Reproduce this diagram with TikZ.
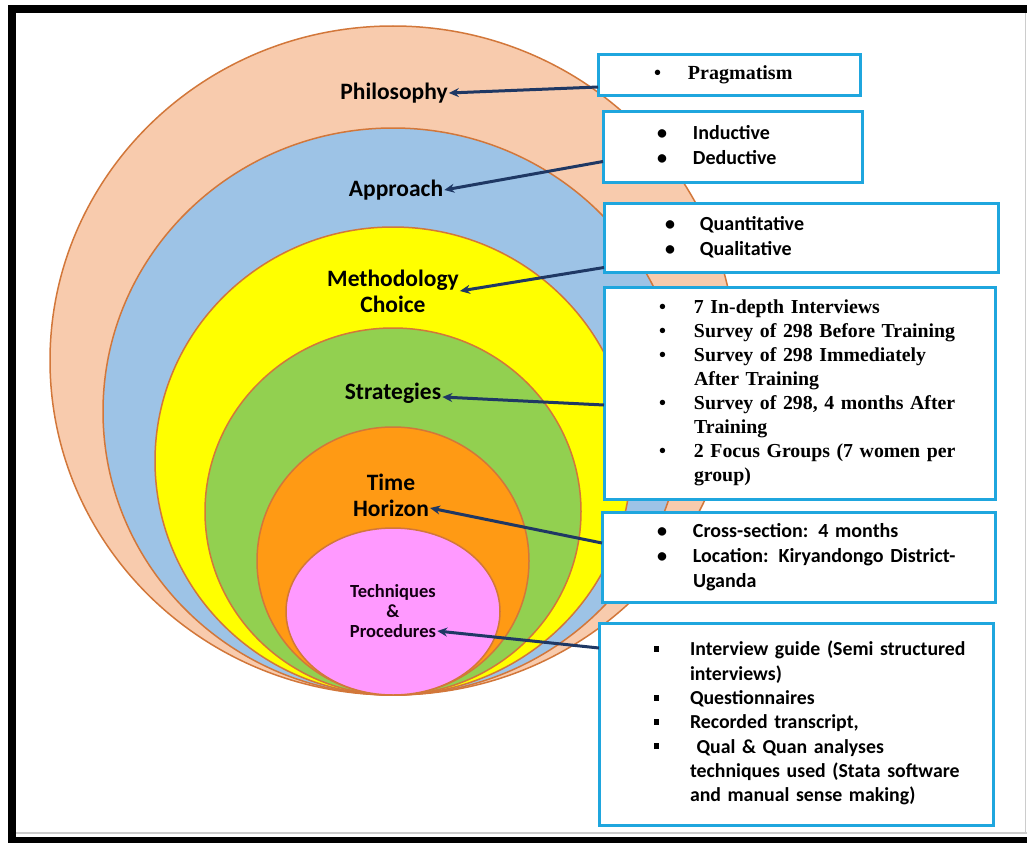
\documentclass[tikz,border=0pt]{standalone}
\usepackage{fontspec}
\setmainfont{Carlito}
\newfontfamily\tnr{Liberation Serif}
\usetikzlibrary{arrows.meta}

\definecolor{peach}{HTML}{F8CBAD}
\definecolor{skyb}{HTML}{9DC3E6}
\definecolor{yel}{HTML}{FFFF00}
\definecolor{grn}{HTML}{92D050}
\definecolor{orng}{HTML}{FF9A14}
\definecolor{pnk}{HTML}{FF99FF}
\definecolor{rim}{HTML}{D2773A}
\definecolor{boxb}{HTML}{1FA6DE}
\definecolor{navy}{HTML}{1F3864}

\newcommand{\blist}[3]{\begin{tabular}{@{\hspace{#1pt}}p{#2pt}@{}l@{}}#3\end{tabular}}
\newcommand{\sqb}{\rule[4pt]{5pt}{6pt}}

\tikzset{
    layer/.style={draw=rim, line width=1.5pt},
    lbl/.style={font=\fontsize{23.5}{26}\selectfont\bfseries, align=center, inner sep=1pt},
    infobox/.style={draw=boxb, line width=3pt, fill=white, anchor=north west,
        inner xsep=0pt, inner ysep=0pt, outer sep=0pt, align=left},
    pointer/.style={draw=navy, line width=3pt, -{Stealth[length=10pt,width=9pt]}},
}

\begin{document}
\begin{tikzpicture}[x=1pt, y=-1pt]
            \useasboundingbox (0,0) rectangle (1027,843);

            \draw[layer, fill=peach] (393,360.5) ellipse [x radius=343pt, y radius=334.5pt];
            \draw[layer, fill=skyb] (393,411.5) ellipse [x radius=290pt, y radius=283.5pt];
            \draw[layer, fill=yel] (393,461) ellipse [x radius=238pt, y radius=234pt];
            \draw[layer, fill=grn] (393,511.5) ellipse [x radius=188pt, y radius=183.5pt];
            \draw[layer, fill=orng] (393,561) ellipse [x radius=136pt, y radius=134pt];
            \draw[layer, fill=pnk] (393,611.5) ellipse [x radius=107pt, y radius=83.5pt];

            \node[lbl] (phil) at (394,93) {Philosophy};
            \node[lbl] (appr) at (396,190) {Approach};
            \node[lbl] (meth) at (393,291) {Methodology\\Choice};
            \node[lbl] (strat) at (393,393) {Strategies};
            \node[lbl] (hor) at (391,495) {Time\\Horizon};
            \node[lbl, font=\fontsize{18.5}{20}\selectfont\bfseries, text=black!85!violet] (tech) at (393,611) {Techniques\\\&\\Procedures};

            \node[infobox, minimum width=262pt, minimum height=40pt, text width=262pt,
                font=\tnr\fontsize{20}{24}\selectfont\bfseries] (b1) at (598,55)
                {\blist{56}{34}{\textbullet & Pragmatism}};
            \node[infobox, minimum width=259pt, minimum height=71pt, text width=259pt,
                font=\fontsize{20}{25}\selectfont\bfseries] (b2) at (603,111)
                {\blist{54}{36}{\textbullet & Inductive\\ \textbullet & Deductive}};
            \node[infobox, minimum width=394pt, minimum height=69pt, text width=394pt,
                font=\fontsize{20}{25}\selectfont\bfseries] (b3) at (604,203)
                {\blist{61}{35}{\textbullet & Quantitative\\ \textbullet & Qualitative}};
            \node[infobox, minimum width=391pt, minimum height=212pt, text width=391pt,
                font=\tnr\fontsize{19.8}{24}\selectfont\bfseries] (b4) at (604,287)
                {\blist{55}{35}{\textbullet & 7 In-depth Interviews\\
                    \textbullet & Survey of 298 Before Training\\
                    \textbullet & Survey of 298 Immediately\\ & After Training\\
                    \textbullet & Survey of 298, 4 months After\\ & Training\\
                    \textbullet & 2 Focus Groups (7 women per\\ & group)}};
            \node[infobox, minimum width=393pt, minimum height=90pt, text width=393pt,
                font=\fontsize{20}{25}\selectfont\bfseries] (b5) at (602,512)
                {\blist{55}{36}{\textbullet & Cross-section: 4 months\\
                    \textbullet & Location: Kiryandongo District-\\ & Uganda}};
            \node[infobox, minimum width=394pt, minimum height=202pt, text width=394pt,
                font=\fontsize{19.8}{24.3}\selectfont\bfseries] (b6) at (599,623)
                {\blist{55}{36}{\sqb & Interview guide (Semi structured\\ & interviews)\\
                    \sqb & Questionnaires\\
                    \sqb & Recorded transcript,\\
                    \sqb & \ Qual \& Quan analyses\\ & techniques used (Stata software\\
                    & and manual sense making)}};

            \draw[pointer] ([yshift=-12pt]b1.west) -- (phil.east);
            \draw[pointer] ([yshift=-15pt]b2.west) -- (appr.east);
            \draw[pointer] ([yshift=-30pt]b3.west) -- (meth.east);
            \draw[pointer] ([yshift=-12pt]b4.west) -- ([yshift=-4pt]strat.east);
            \draw[pointer] ([yshift=14pt]b5.west) -- ([yshift=-13pt]hor.east);
            \draw[pointer] ([yshift=76pt]b6.west) -- ([yshift=-20pt]tech.east);

            \fill (8,5) rectangle (1027,13);
            \fill (8,5) rectangle (16,843);
            \fill (8,837) rectangle (1027,843);
            \draw[black!20, line width=2pt] (16,833) -- (1027,833);
            \draw[black!20] (1025,13) -- (1025,832);
        \end{tikzpicture}
\end{document}
